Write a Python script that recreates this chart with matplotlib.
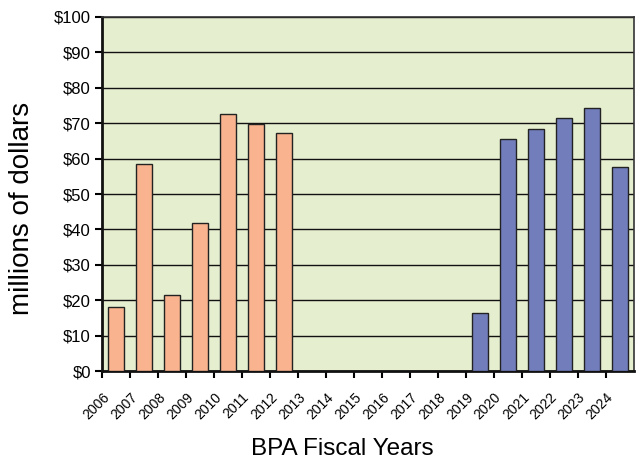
import matplotlib
matplotlib.use("Agg")
import matplotlib.pyplot as plt
import matplotlib.transforms as mtransforms
import numpy as np

years = [str(y) for y in range(2006, 2025)]
orange_vals = [18.0, 58.5, 21.5, 41.8, 72.6, 69.8, 67.2] + [0]*12
blue_vals = [0]*13 + [16.3, 65.4, 68.3, 71.4, 74.4, 57.7]
yticks = list(range(0, 101, 10))
ytick_labels = [f"${v}" for v in yticks]

plt.rcParams['font.family'] = ['Liberation Sans', 'DejaVu Sans']

fig = plt.figure(figsize=(6.37, 4.61), dpi=100)
ax = fig.add_axes([102/637, 1-371/461, 532/637, 354/461])
ax.set_facecolor('#E5EECF')

x = np.arange(len(years))
ov = np.array(orange_vals); bv = np.array(blue_vals)
mo = ov > 0; mb = bv > 0
ax.bar(x[mo], ov[mo], width=0.57, color='#F9B38F', edgecolor='#222222', linewidth=1.0, zorder=3)
ax.bar(x[mb], bv[mb], width=0.57, color='#727DBC', edgecolor='#222222', linewidth=1.0, zorder=3)

ax.set_xlim(-0.5, len(years)-0.5)
ax.set_ylim(0, 100)
ax.set_yticks(yticks)
ax.set_yticklabels(ytick_labels, fontsize=12)
ax.yaxis.grid(True, color='#111111', linewidth=1.0, zorder=1)
ax.set_axisbelow(True)

ax.set_xticks(x - 0.5)
ax.set_xticklabels(years, rotation=45, ha='right', rotation_mode='anchor', fontsize=10)
shift = mtransforms.ScaledTranslation(9/100, 0, fig.dpi_scale_trans)
for lbl in ax.get_xticklabels():
    lbl.set_transform(lbl.get_transform() + shift)
ax.tick_params(axis='x', length=5, width=1.5, pad=9, direction='out')
ax.tick_params(axis='y', length=5, width=1.5, pad=3, direction='out')

for s in ['left', 'bottom']:
    ax.spines[s].set_linewidth(2)
    ax.spines[s].set_color('#111111')
for s in ['top', 'right']:
    ax.spines[s].set_linewidth(1.2)
    ax.spines[s].set_color('#333333')

fig.text(22/637, 1-208/461, 'millions of dollars', rotation=90, ha='center', va='center', fontsize=20)
fig.text(342/637, 1-449/461, 'BPA Fiscal Years', ha='center', va='center', fontsize=17.5)

fig.savefig('out.png', dpi=100)
